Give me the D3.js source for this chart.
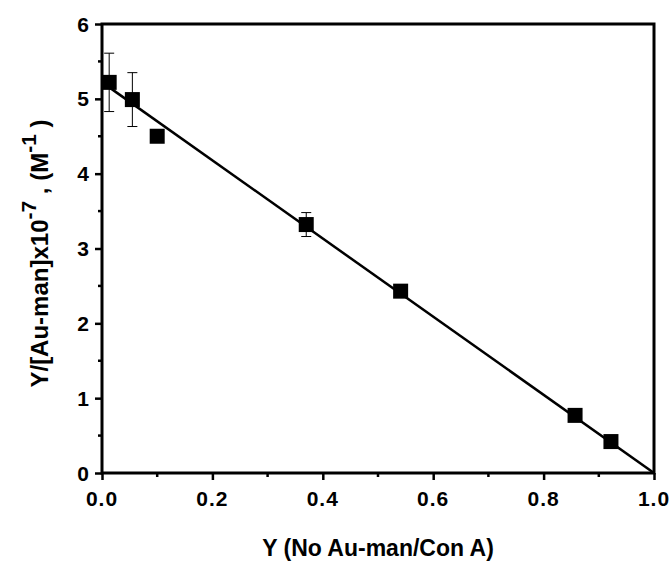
<!DOCTYPE html>
<html>
<head>
<meta charset="utf-8">
<script src="https://cdn.jsdelivr.net/npm/d3@7"></script>
<style>
	body { margin: 0; background: #fff; }
	svg text { font-family: "Liberation Sans", Arial, sans-serif; font-weight: bold; fill: #000; }
</style>
</head>
<body>
<div id="chart"></div>
<script>
// Data points
const xValues = [0.013, 0.055, 0.100, 0.370, 0.541, 0.857, 0.922];
const yValues = [5.22, 4.99, 4.50, 3.32, 2.43, 0.77, 0.42];
const yErrors = [0.39, 0.36, 0, 0.16, 0, 0, 0];

// Linear fit endpoints
const fitX = [0.01, 1.0];
const fitY = [5.17, 0];

const xTicks = [0, 0.2, 0.4, 0.6, 0.8, 1.0];
const yTicks = [0, 1, 2, 3, 4, 5, 6];
const xTickLabels = ["0.0", "0.2", "0.4", "0.6", "0.8", "1.0"];
const yTickLabels = ["0", "1", "2", "3", "4", "5", "6"];

const width = 671, height = 563;
const margin = { left: 102, right: 17, top: 24, bottom: 90 };

const svg = d3.select("#chart").append("svg")
	.attr("width", width)
	.attr("height", height);

const x = d3.scaleLinear().domain([0, 1]).range([margin.left, width - margin.right]);
const y = d3.scaleLinear().domain([0, 6]).range([height - margin.bottom, margin.top]);

// Axes: major ticks outward, labels drawn separately
const xAxis = d3.axisBottom(x).tickValues(xTicks).tickFormat("").tickSize(7);
const yAxis = d3.axisLeft(y).tickValues(yTicks).tickFormat("").tickSize(7);

const gx = svg.append("g").attr("transform", `translate(0,${y(0)})`).call(xAxis);
const gy = svg.append("g").attr("transform", `translate(${x(0)},0)`).call(yAxis);

[gx, gy].forEach(g => {
	g.select(".domain").remove();
	g.selectAll(".tick text").remove();
	g.selectAll(".tick line").attr("stroke", "#000").attr("stroke-width", 2.5);
});

// tick labels
svg.append("g").selectAll("text").data(xTicks).enter().append("text")
	.attr("x", d => x(d)).attr("y", y(0) + 33)
	.attr("text-anchor", "middle")
	.style("font-size", "21px")
	.style("letter-spacing", "1px")
	.text((d, i) => xTickLabels[i]);
svg.append("g").selectAll("text").data(yTicks).enter().append("text")
	.attr("x", x(0) - 13).attr("y", d => y(d) + 7.5)
	.attr("text-anchor", "end")
	.style("font-size", "21px")
	.text((d, i) => yTickLabels[i]);

// minor ticks
const xMinor = d3.range(0.1, 1.0, 0.2);
const yMinor = d3.range(0.5, 6, 1);
svg.append("g").selectAll("line").data(xMinor).enter().append("line")
	.attr("x1", d => x(d)).attr("x2", d => x(d))
	.attr("y1", y(0)).attr("y2", y(0) + 4)
	.attr("stroke", "#000").attr("stroke-width", 2.5);
svg.append("g").selectAll("line").data(yMinor).enter().append("line")
	.attr("x1", x(0) - 4).attr("x2", x(0))
	.attr("y1", d => y(d)).attr("y2", d => y(d))
	.attr("stroke", "#000").attr("stroke-width", 2.5);

// frame
svg.append("rect")
	.attr("x", x(0)).attr("y", y(6))
	.attr("width", x(1) - x(0)).attr("height", y(0) - y(6))
	.attr("fill", "none").attr("stroke", "#000").attr("stroke-width", 3);

// fit line
svg.append("line")
	.attr("x1", x(fitX[0])).attr("y1", y(fitY[0]))
	.attr("x2", x(fitX[1])).attr("y2", y(fitY[1]))
	.attr("stroke", "#000").attr("stroke-width", 2.5);

// error bars
const points = xValues.map((v, i) => ({ x: v, y: yValues[i], e: yErrors[i] }));
const errs = svg.append("g").selectAll("g").data(points.filter(p => p.e > 0)).enter().append("g");
errs.append("line")
	.attr("x1", d => x(d.x)).attr("x2", d => x(d.x))
	.attr("y1", d => y(d.y + d.e)).attr("y2", d => y(d.y - d.e))
	.attr("stroke", "#000").attr("stroke-width", 1);
[1, -1].forEach(s => {
	errs.append("line")
		.attr("x1", d => x(d.x) - 5).attr("x2", d => x(d.x) + 5)
		.attr("y1", d => y(d.y + s * d.e)).attr("y2", d => y(d.y + s * d.e))
		.attr("stroke", "#000").attr("stroke-width", 1);
});

// square markers
const sz = 15;
svg.append("g").selectAll("rect").data(points).enter().append("rect")
	.attr("x", d => x(d.x) - sz / 2).attr("y", d => y(d.y) - sz / 2)
	.attr("width", sz).attr("height", sz)
	.attr("fill", "#000");

// axis titles
svg.append("text")
	.attr("x", (x(0) + x(1)) / 2).attr("y", 556)
	.attr("text-anchor", "middle")
	.style("font-size", "23px")
	.text("Y (No Au-man/Con A)");

const yTitle = svg.append("text")
	.attr("transform", `translate(48,${(y(0) + y(6)) / 2 + 5}) rotate(-90)`)
	.attr("text-anchor", "middle")
	.style("font-size", "24px");
yTitle.append("tspan").text("Y/[Au-man]x10");
yTitle.append("tspan").attr("dy", -12).style("font-size", "21px").text("-7");
yTitle.append("tspan").attr("dy", 12).text(" , (M");
yTitle.append("tspan").attr("dy", -12).style("font-size", "21px").text("-1");
yTitle.append("tspan").attr("dy", 12).text(" )");
</script>
</body>
</html>
